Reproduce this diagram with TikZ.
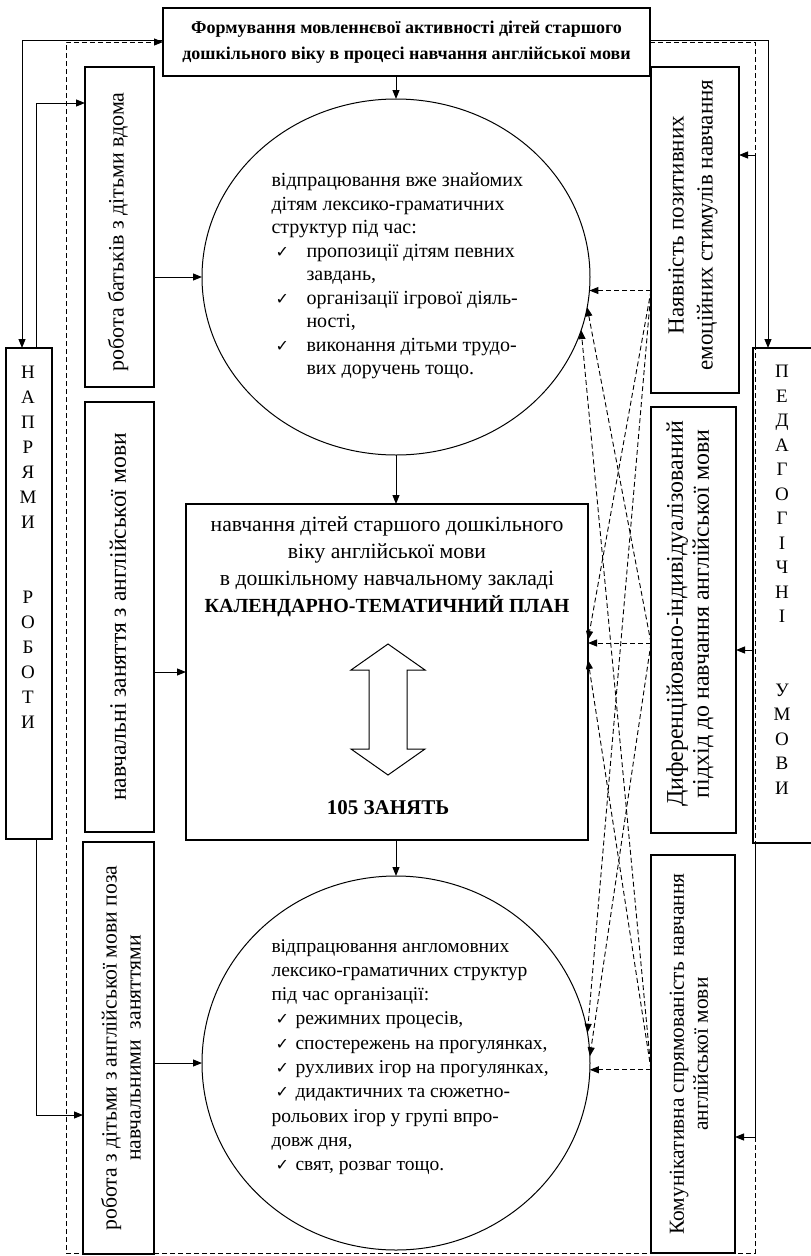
\documentclass[tikz,border=0pt]{standalone}
\usepackage{fontspec}
\setmainfont{Liberation Serif}
\newfontfamily\symf{DejaVu Sans}
\usetikzlibrary{arrows.meta,shapes.geometric}
\tikzset{>={Triangle[length=9pt,width=7pt]}}
\tikzset{
  box/.style={draw,line width=1.3pt,inner sep=0pt,outer sep=0pt},
  oval/.style={draw,ellipse,line width=1pt,inner sep=0pt,outer sep=0pt,minimum width=388pt},
  vtext/.style={rotate=90,align=center},
  link/.style={->,line width=1pt},
  dlink/.style={->,line width=0.9pt,dash pattern=on 5pt off 3pt},
}
\newcommand{\fs}[2]{\fontsize{#1}{#2}\selectfont}
\newcommand{\tick}[2]{\hspace*{#1}\makebox[#2][l]{\symf\fontsize{16}{16}\selectfont ✓}}

\begin{document}
\begin{tikzpicture}[x=1pt,y=-1pt]
\useasboundingbox (0,0) rectangle (811,1256);

\node[box,minimum width=487pt,minimum height=68pt,align=center,font=\bfseries\fs{18}{26}] (title) at (406.5,42) {Формування мовленнєвої активності дітей старшого\\дошкільного віку в процесі навчання англійської мови};

\node[box,minimum width=46pt,minimum height=491pt] (dirs) at (29,593.5) {};
\node[align=center,font=\fs{19}{25}] (dirst) at (28,547) {Н\\А\\П\\Р\\Я\\М\\И\\[50pt]Р\\О\\Б\\О\\Т\\И};
\node[box,minimum width=77pt,minimum height=495pt] (conds) at (791.5,595.5) {};
\node[align=center,font=\fs{19}{24.5}] (condst) at (782,580) {П\\Е\\Д\\А\\Г\\О\\Г\\І\\Ч\\Н\\І\\[49pt]У\\М\\О\\В\\И};

\node[box,minimum width=69pt,minimum height=320pt] (home) at (119.5,227) {};
\node[vtext,font=\fs{22}{25}] (homet) at (118,232) {робота батьків з дітьми вдома};
\node[box,minimum width=69pt,minimum height=430pt] (lessons) at (119.5,617) {};
\node[vtext,font=\fs{23.6}{26}] (lessonst) at (118,617) {навчальні заняття з англійської мови};
\node[box,minimum width=71pt,minimum height=412pt] (outside) at (118.5,1048) {};
\node[vtext,font=\fs{21.7}{24}] (outsidet) at (121,1048) {робота з дітьми з англійської мови поза\\навчальними \ заняттями};

\node[box,minimum width=88pt,minimum height=326pt] (stim) at (695,230) {};
\node[vtext,font=\fs{23}{29}] (stimt) at (693,225) {Наявність позитивних\\емоційних стимулів навчання};
\node[box,minimum width=85pt,minimum height=426pt] (indiv) at (693.5,620) {};
\node[vtext,font=\fs{23.9}{26}] (indivt) at (690,614) {Диференційовано-індивідуалізований\\підхід до навчання англійської мови};
\node[box,minimum width=84pt,minimum height=398pt] (comm) at (693,1054) {};
\node[vtext,font=\fs{21.4}{24}] (commt) at (689,1054) {Комунікативна спрямованість навчання\\англійської мови};

\node[oval,minimum height=356pt] (circ1) at (396,277) {};
\node[align=left,anchor=west,font=\fs{20}{23.5}] (circ1t) at (268,276) {відпрацювання вже знайомих\\дітям лексико-граматичних\\структур під час:\\\tick{4pt}{31pt}пропозиції дітям певних\\\hspace*{35pt}завдань,\\\tick{4pt}{31pt}організації ігрової діяль-\\\hspace*{35pt}ності,\\\tick{4pt}{31pt}виконання дітьми трудо-\\\hspace*{35pt}вих доручень тощо.};

\node[box,minimum width=402pt,minimum height=336pt] (plan) at (387,672) {};
\node[align=center,font=\fs{21.7}{27}] (plant) at (387,567) {навчання дітей старшого дошкільного\\віку англійської мови\\в дошкільному навчальному закладі\\\textbf{\fs{20}{27}КАЛЕНДАРНО-ТЕМАТИЧНИЙ ПЛАН}};
\draw[line width=1pt] (388,644) -- (425,670) -- (407,670) -- (407,749) -- (425,749) -- (388,775)
  -- (351,749) -- (369,749) -- (369,670) -- (351,670) -- cycle;
\node[font=\bfseries\fs{21}{24}] (count) at (388,808) {105 ЗАНЯТЬ};

\node[oval,minimum height=374pt] (circ2) at (396,1063) {};
\node[align=left,anchor=west,font=\fs{19.5}{24.3}] (circ2t) at (268,1057) {відпрацювання англомовних\\лексико-граматичних структур\\під час організації:\\\tick{4pt}{20pt}режимних процесів,\\\tick{4pt}{20pt}спостережень на прогулянках,\\\tick{4pt}{20pt}рухливих ігор на прогулянках,\\\tick{4pt}{20pt}дидактичних та сюжетно-\\рольових ігор у групі впро-\\довж дня,\\\tick{4pt}{20pt}свят, розваг тощо.};

\draw[link] (circ1.north |- title.south) -- (circ1.north);
\draw[link] (circ1.south) -- (circ1.south |- plan.north);
\draw[link] (circ2.north |- plan.south) -- (circ2.north);
\draw[link] (home.east |- circ1.west) -- (circ1.west);
\draw[link] (lessons.east |- plan.west) -- (plan.west);
\draw[link] (outside.east |- circ2.west) -- (circ2.west);

\draw[link] ([yshift=2pt]title.west) -| ([xshift=-7pt]dirs.north);
\draw[link] ([xshift=7pt]dirs.north) |- ([yshift=-36pt]home.north west);
\draw[link] ([xshift=7pt]dirs.south) |- ([yshift=-67pt]outside.west);

\draw[link] ([yshift=2pt]title.east) -| ([xshift=15pt]conds.north west);
\draw[link] ([xshift=2pt]conds.north west) |- ([yshift=75pt]stim.east);
\coordinate (c2) at ([yshift=-30pt]indiv.east);
\draw[link] (conds.west |- c2) -- (c2);
\draw[link] ([xshift=2pt]conds.south west) |- ([yshift=-83pt]comm.east);

\draw[dlink] (title.east) -| (755,1253) -| (66,42) -- (title.west);

\coordinate (t12) at ([yshift=32pt]plan.east);
\coordinate (t22) at ([yshift=29pt]plan.east);
\coordinate (t32) at ([yshift=12pt]plan.east);
\coordinate (s1) at (stim.west |- circ1.-4);
\coordinate (s2) at (indiv.west |- t22);
\coordinate (s3) at (comm.west |- circ2.-2);

\draw[dlink] (s1) -- (circ1.-4);
\draw[dlink] (s1) -- (t12);
\draw[dlink] (s1) -- (circ2.9);
\draw[dlink] (s2) -- (circ1.-9);
\draw[dlink] (s2) -- (t22);
\draw[dlink] (s2) -- (circ2.2);
\draw[dlink] (s3) -- (circ1.-16);
\draw[dlink] (s3) -- (t32);
\draw[dlink] (s3) -- (circ2.-2);
\end{tikzpicture}
\end{document}
